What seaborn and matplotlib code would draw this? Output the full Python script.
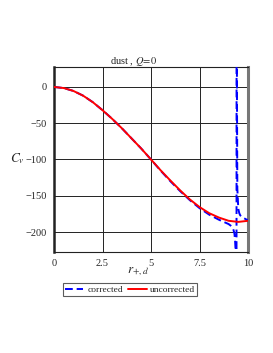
import numpy as np
import pandas as pd
import matplotlib
matplotlib.use("Agg")
import matplotlib.pyplot as plt
import seaborn as sns
from matplotlib.lines import Line2D

# ---- data ----
r_unc = [0, 0.5, 1, 1.5, 2, 2.5, 3, 3.5, 4, 4.5, 5, 5.5, 6, 6.5, 7, 7.5, 8, 8.5, 9, 9.5, 10]
c_unc = [0, -1.5, -5.5, -12, -21, -32, -44, -57, -71, -85, -100, -115, -129, -142.5, -155, -165.5, -174, -180, -184.5, -186, -184.5]

r_cor = [0, 0.5, 1, 1.5, 2, 2.5, 3, 3.5, 4, 4.5, 5, 5.5, 6, 6.5, 7, 7.5, 8, 8.5, 9, 9.1, 9.2, 9.25, 9.3, 9.33, 9.36, 9.38, 9.395, 9.405,
         9.415, 9.43, 9.45, 9.5, 9.55, 9.6, 9.7, 9.8, 9.9, 10]
c_cor = [0, -1.5, -5.5, -12, -21, -32, -44, -57, -71, -85, -100, -115.5, -130, -143.5, -156, -167, -176, -183, -189, -191, -194, -197, -202, -210, -225, -260, -400, -600,
         600, 0, -140, -168, -174, -177, -179, -181, -182.5, -183.5]

x_ticks = [0, 2.5, 5, 7.5, 10]
x_ticklabels = ["0", "2.5", "5", "7.5", "10"]
y_ticks = [0, -50, -100, -150, -200]
y_ticklabels = ["0", "\u221250", "\u2212100", "\u2212150", "\u2212200"]

df_unc = pd.DataFrame({"r": r_unc, "C": c_unc})
df_cor = pd.DataFrame({"r": r_cor, "C": c_cor})

sns.set_style("white")
plt.rcParams["font.family"] = ["Liberation Serif", "DejaVu Serif"]
plt.rcParams["mathtext.fontset"] = "stix"

fig = plt.figure(figsize=(2.73, 3.53), dpi=100)
ax = fig.add_axes([54/273, 1-252/353, (248-54)/273, (252-67)/353])

sns.lineplot(data=df_cor, x="r", y="C", ax=ax, color="#0000ff", lw=1.4,
             estimator=None, sort=False, zorder=3, linestyle=(0, (4, 2)))
sns.lineplot(data=df_unc, x="r", y="C", ax=ax, color="#ff0000", lw=1.4,
             estimator=None, sort=False, zorder=4)

ax.set_xlim(0, 10)
ax.set_ylim(-227.5, 27.5)
ax.set_xticks(x_ticks)
ax.set_xticklabels(x_ticklabels)
ax.set_yticks(y_ticks)
ax.set_yticklabels(y_ticklabels)
ax.tick_params(labelsize=7.5, length=0, pad=5)
ax.grid(True, color="#222222", lw=0.7)
ax.set_axisbelow(True)
ax.set_xlabel("")
ax.set_ylabel("")

for s in ["top", "bottom"]:
    ax.spines[s].set_visible(True)
    ax.spines[s].set_color("#222222")
    ax.spines[s].set_linewidth(0.8)
ax.spines["left"].set_visible(True)
ax.spines["left"].set_color("#222222")
ax.spines["left"].set_linewidth(1.8)
ax.spines["right"].set_visible(True)
ax.spines["right"].set_color("#777777")
ax.spines["right"].set_linewidth(2.2)

fig.text(134/273, 1-62/353, r"dust , $Q\!=\!0$", ha="center", va="center", fontsize=7.5)
fig.text(17/273, 1-159/353, r"$C_v$", ha="center", va="center", fontsize=9.5)
fig.text(138/273, 1-272/353, r"$r_{+,d}$", ha="center", va="center", fontsize=9.5)

handles = [Line2D([], [], color="#0000ff", lw=1.4, linestyle=(0, (4, 2))),
           Line2D([], [], color="#ff0000", lw=1.4)]
leg = fig.legend(handles, ["corrected", "uncorrected"], loc="center",
                 bbox_to_anchor=(130/273, 1-289.5/353), ncol=2, fontsize=6.8,
                 frameon=True, fancybox=False, handlelength=2.0, handletextpad=0.4,
                 columnspacing=0.5, borderpad=0.2, borderaxespad=0)
leg.get_frame().set_edgecolor("#333333")
leg.get_frame().set_linewidth(0.8)

fig.savefig("out.png", dpi=100)
